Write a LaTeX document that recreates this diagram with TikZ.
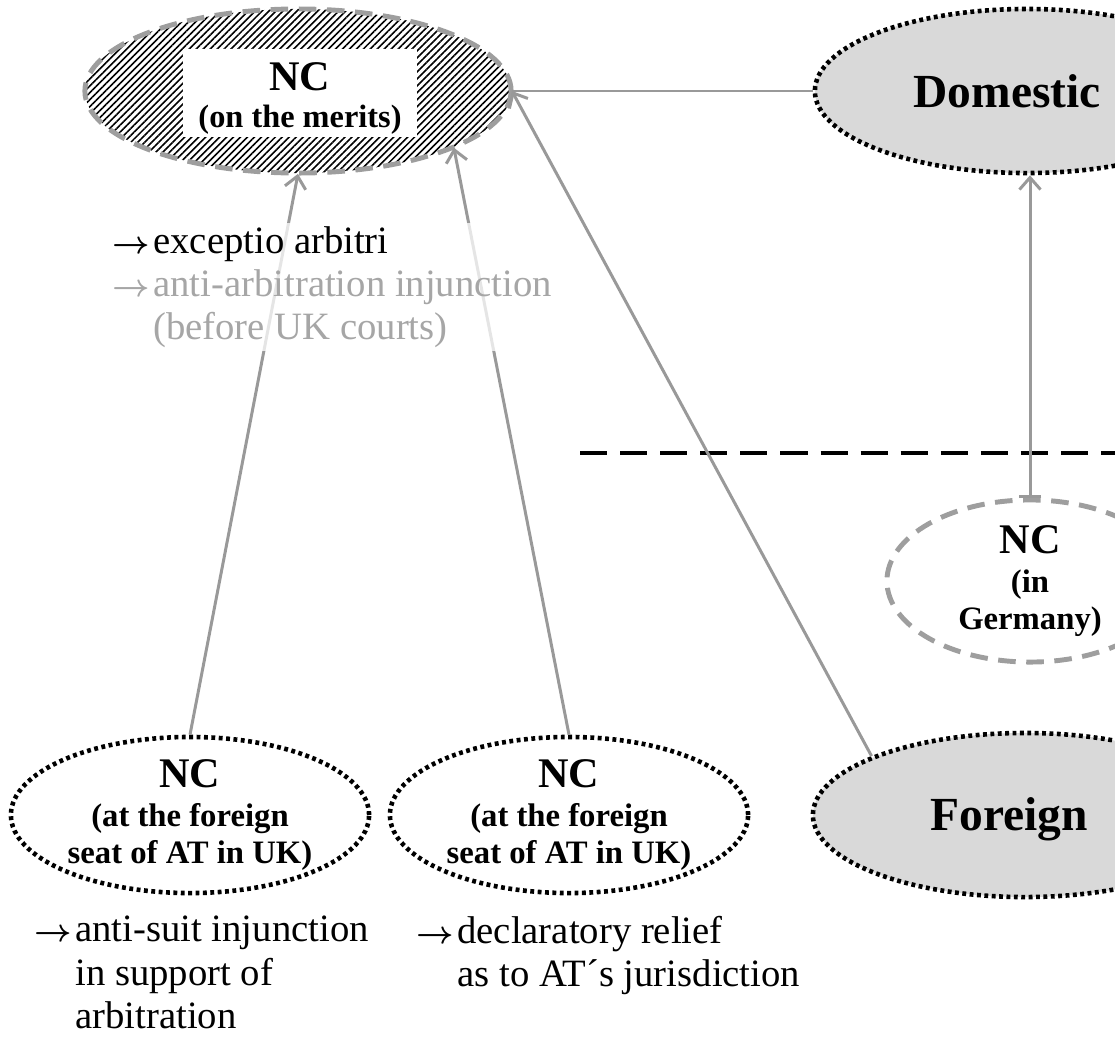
\documentclass[tikz,border=0pt]{standalone}
\usepackage{amsmath}
\usepackage{fontspec}
\setmainfont{Liberation Serif}
\usetikzlibrary{shapes.geometric, arrows.meta, patterns.meta}
\newcommand{\arr}{\makebox[11.7pt][l]{\fontsize{9.5}{9.5}\selectfont$\boldsymbol{\rightarrow}$}}
\tikzset{x=0.01cm, y=-0.01cm, >={Straight Barb[length=3.4pt,width=6pt]},
    court/.style={ellipse, draw=black, line width=1.3pt, dash pattern=on 1.1pt off 1pt, inner sep=0pt},
    seat/.style={court, minimum width=3.58cm, minimum height=1.56cm, inner sep=-3pt, align=center, font=\fontsize{9.3}{10.5}\selectfont\bfseries},
    tribunal/.style={court, fill=black!15, minimum width=4.24cm, minimum height=1.64cm},
    open court/.style={ellipse, draw=black!38, line width=1.4pt, dash pattern=on 5pt off 3pt, inner sep=-3pt},
    link/.style={draw=black!40, line width=0.85pt},
    relief/.style={align=left, inner sep=1pt, fill=white, fill opacity=0.75, text opacity=1, font=\fontsize{11}{12.3}\selectfont},
    divider/.style={line width=1.4pt, dash pattern=on 7.7pt off 3.7pt},
    big/.style={font=\fontsize{13.5}{15}\selectfont\bfseries, inner sep=0pt}}

\begin{document}
\begin{tikzpicture}
        \useasboundingbox (0,0) rectangle (1115,1039);
        \clip (0,0) rectangle (1115,1039);

        \node[open court, pattern={Lines[angle=45,distance=1.4pt,line width=0.45pt]}, minimum width=4.26cm, minimum height=1.64cm] at (298,91) (ncMerits) {};
        \node[fill=white, minimum width=2.34cm, minimum height=0.87cm, inner sep=0pt, align=center, font=\fontsize{9.2}{10.5}\selectfont\bfseries] at (300,93) (meritsText) {{\fontsize{12}{10.5}\selectfont\rule{0pt}{11.2pt}NC}\\(on the merits)};
        \node[tribunal] at (1027,91) (domesticAT) {};
        \node[big, anchor=base west] at (913,107) (domesticText) {Domestic};
        \node[tribunal] at (1025,815) (foreignAT) {};
        \node[big, anchor=base west] at (930,830) (foreignText) {Foreign};
        \node[open court, minimum width=2.86cm, minimum height=1.62cm, align=center, font=\fontsize{9.3}{10.5}\selectfont\bfseries] at (1030,581) (ncGermany) {{\fontsize{12}{10.5}\selectfont NC}\\[0.8pt](in\\Germany)};
        \node[seat] at (190,815) (ncSeatA) {{\fontsize{12}{10.5}\selectfont NC}\\[0.8pt](at the foreign\\seat of AT in UK)};
        \node[seat] at (569,815) (ncSeatB) {{\fontsize{12}{10.5}\selectfont NC}\\[0.8pt](at the foreign\\seat of AT in UK)};

        \coordinate (dividerStart) at (580,453);
        \coordinate (dividerEnd) at (1125,453);
        \draw[divider] (dividerStart) -- (dividerEnd);

        \draw[link, ->] (ncSeatA.north) -- (ncMerits.south);
        \draw[link, ->] (ncSeatB.north) -- (ncMerits.-20);
        \draw[link, ->] (foreignAT.159) -- (ncMerits.east);
        \draw[link] (ncMerits.east) -- (domesticAT.west);
        \draw[link, {Bar[width=6.5pt]}->] (ncGermany.north) -- (ncGermany.north |- domesticAT.south);

        \node[relief, anchor=north west] at (108,222) (meritsRelief) {\arr exceptio arbitri\\\textcolor{black!35}{\arr anti-arbitration injunction}\\\hspace*{11.7pt}\textcolor{black!35}{(before UK courts)}};
        \node[relief, anchor=north west] at (30,912) (seatReliefA) {\arr anti-suit injunction\\\hspace*{11.7pt}in support of\\\hspace*{11.7pt}arbitration};
        \node[relief, anchor=north west] at (412,912) (seatReliefB) {\arr declaratory relief\\\hspace*{11.7pt}as to AT´s jurisdiction};
\end{tikzpicture}
\end{document}
